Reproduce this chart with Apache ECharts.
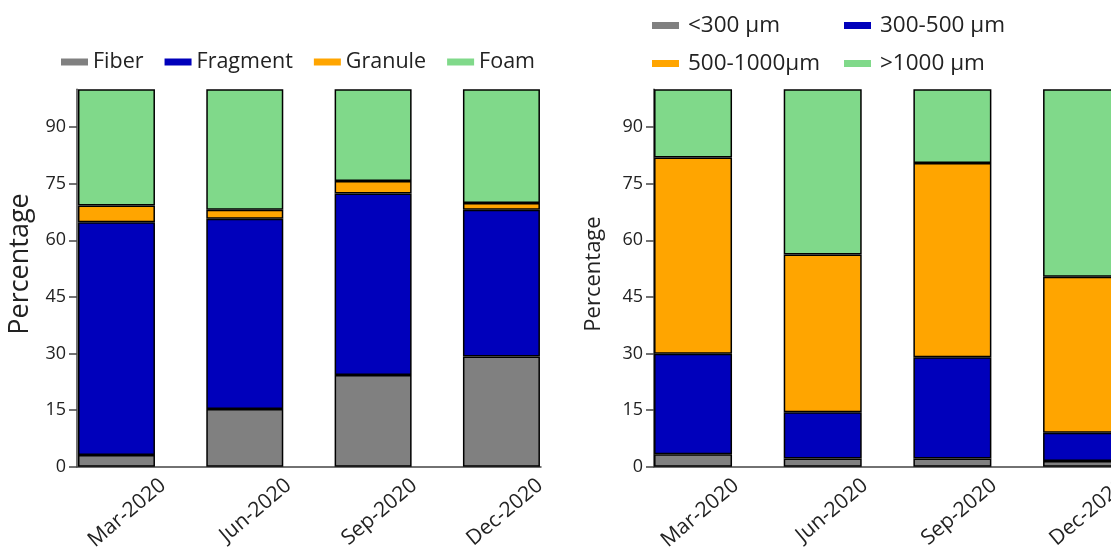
<!DOCTYPE html>
<html>
<head>
<meta charset="utf-8">
<script src="https://cdn.jsdelivr.net/npm/echarts@6/dist/echarts.min.js"></script>
<style>
html,body{margin:0;padding:0;background:#fff;}
#c{width:1111px;height:547px;}
</style>
</head>
<body>
<div id="c"></div>
<script>
// ---- data ----
const categories = ['Mar-2020', 'Jun-2020', 'Sep-2020', 'Dec-2020'];
const yTicks = [0, 15, 30, 45, 60, 75, 90];

// left chart: type
const fiber    = [3.1, 15.3, 24.3, 29.2];
const fragment = [61.7, 50.4, 48.1, 38.9];
const granule  = [4.4, 2.4, 3.3, 1.8];
const foam     = [30.8, 31.9, 24.3, 30.1];

// right chart: size
const sizeLt300    = [3.3, 2.2, 2.2, 1.5];
const size300_500  = [26.6, 12.2, 26.8, 7.5];
const size500_1000 = [52.0, 41.8, 51.5, 41.3];
const sizeGt1000   = [18.1, 43.8, 19.5, 49.7];

const leftNames = ['Fiber', 'Fragment', 'Granule', 'Foam'];
const rightNames = ['<300 µm', '300-500 µm', '500-1000µm', '>1000 µm'];

// ---- styles ----
const COLORS = ['#808080', '#0000bb', '#ffa500', '#80d98a'];
const FONT = 'Open Sans';
const TXT = '#222';
const AX = '#444';

const chart = echarts.init(document.getElementById('c'));

function axisGrid(left, width) {
  return { left: left, width: width, top: 89.3, bottom: 80.3,
           containLabel: false, outerBoundsMode: 'none' };
}

const grids = [
  axisGrid(77, 464),       // 0 left axes
  axisGrid(52.3, 513.3),   // 1 left bars
  axisGrid(163, 377),      // 2 left labels
  axisGrid(654, 470),      // 3 right axes
  axisGrid(628.2, 518.7),  // 4 right bars
  axisGrid(736, 387)       // 5 right labels
];

function xAxesFor(g0) {
  return [
    { gridIndex: g0, type: 'value', min: 0, max: 1,
      axisLine: { show: true, lineStyle: { color: AX, width: 1.5 } },
      axisTick: { show: false }, axisLabel: { show: false }, splitLine: { show: false } },
    { gridIndex: g0 + 1, type: 'category', data: categories, show: false },
    { gridIndex: g0 + 2, type: 'category', data: categories, boundaryGap: false,
      axisLine: { show: false }, axisTick: { show: false }, splitLine: { show: false },
      axisLabel: { rotate: 40, fontSize: 21, fontFamily: FONT, color: TXT, margin: 16, interval: 0,
                   hideOverlap: false } }
  ];
}

function yAxesFor(g0, nameSize, nameGap, namePad) {
  return [
    { gridIndex: g0, type: 'value', min: 0, max: 100,
      name: 'Percentage', nameLocation: 'middle', nameGap: nameGap,
      nameTextStyle: { fontSize: nameSize, fontFamily: FONT, color: TXT, padding: [0, 0, 0, namePad] },
      axisLine: { show: true, lineStyle: { color: AX, width: 1.5 } },
      axisTick: { show: true, length: 8, customValues: yTicks, lineStyle: { color: AX, width: 1.5 } },
      axisLabel: { customValues: yTicks, fontSize: 18, fontFamily: FONT, color: TXT, margin: 11 },
      splitLine: { show: false } },
    { gridIndex: g0 + 1, type: 'value', min: 0, max: 100, show: false },
    { gridIndex: g0 + 2, type: 'value', min: 0, max: 100, show: false }
  ];
}

function bar(name, data, color, axisIdx, stack, w) {
  return {
    type: 'bar', name: name, data: data, stack: stack,
    xAxisIndex: axisIdx, yAxisIndex: axisIdx,
    barWidth: w,
    itemStyle: { color: color, borderColor: '#000', borderWidth: 1.5 },
    emphasis: { disabled: true },
    animation: false
  };
}

const leftData = [fiber, fragment, granule, foam];
const rightData = [sizeLt300, size300_500, size500_1000, sizeGt1000];

const series = [];
leftNames.forEach((n, i) => series.push(bar(n, leftData[i], COLORS[i], 1, 'L', 77)));
rightNames.forEach((n, i) => series.push(bar(n, rightData[i], COLORS[i], 4, 'R', 78)));

const legendBase = {
  icon: 'rect', itemWidth: 27, itemHeight: 7,
  itemStyle: { borderWidth: 0 },
  selectedMode: false
};

chart.setOption({
  animation: false,
  backgroundColor: '#fff',
  grid: grids,
  xAxis: [...xAxesFor(0), ...xAxesFor(3)],
  yAxis: [...yAxesFor(0, 27, 43, 28), ...yAxesFor(3, 22, 49, 8)],
  legend: [
    Object.assign({}, legendBase, { data: leftNames, left: 56, top: 46, orient: 'horizontal', itemGap: 21,
      textStyle: { fontSize: 21.5, fontFamily: FONT, color: TXT } }),
    Object.assign({}, legendBase, { data: [rightNames[0], rightNames[2]], left: 647, top: 9, orient: 'vertical', itemGap: 15,
      textStyle: { fontSize: 22.5, fontFamily: FONT, color: TXT, padding: [0, 0, 0, 4] } }),
    Object.assign({}, legendBase, { data: [rightNames[1], rightNames[3]], left: 839, top: 9, orient: 'vertical', itemGap: 15,
      textStyle: { fontSize: 22.5, fontFamily: FONT, color: TXT, padding: [0, 0, 0, 4] } })
  ],
  series: series
});
</script>
</body>
</html>
